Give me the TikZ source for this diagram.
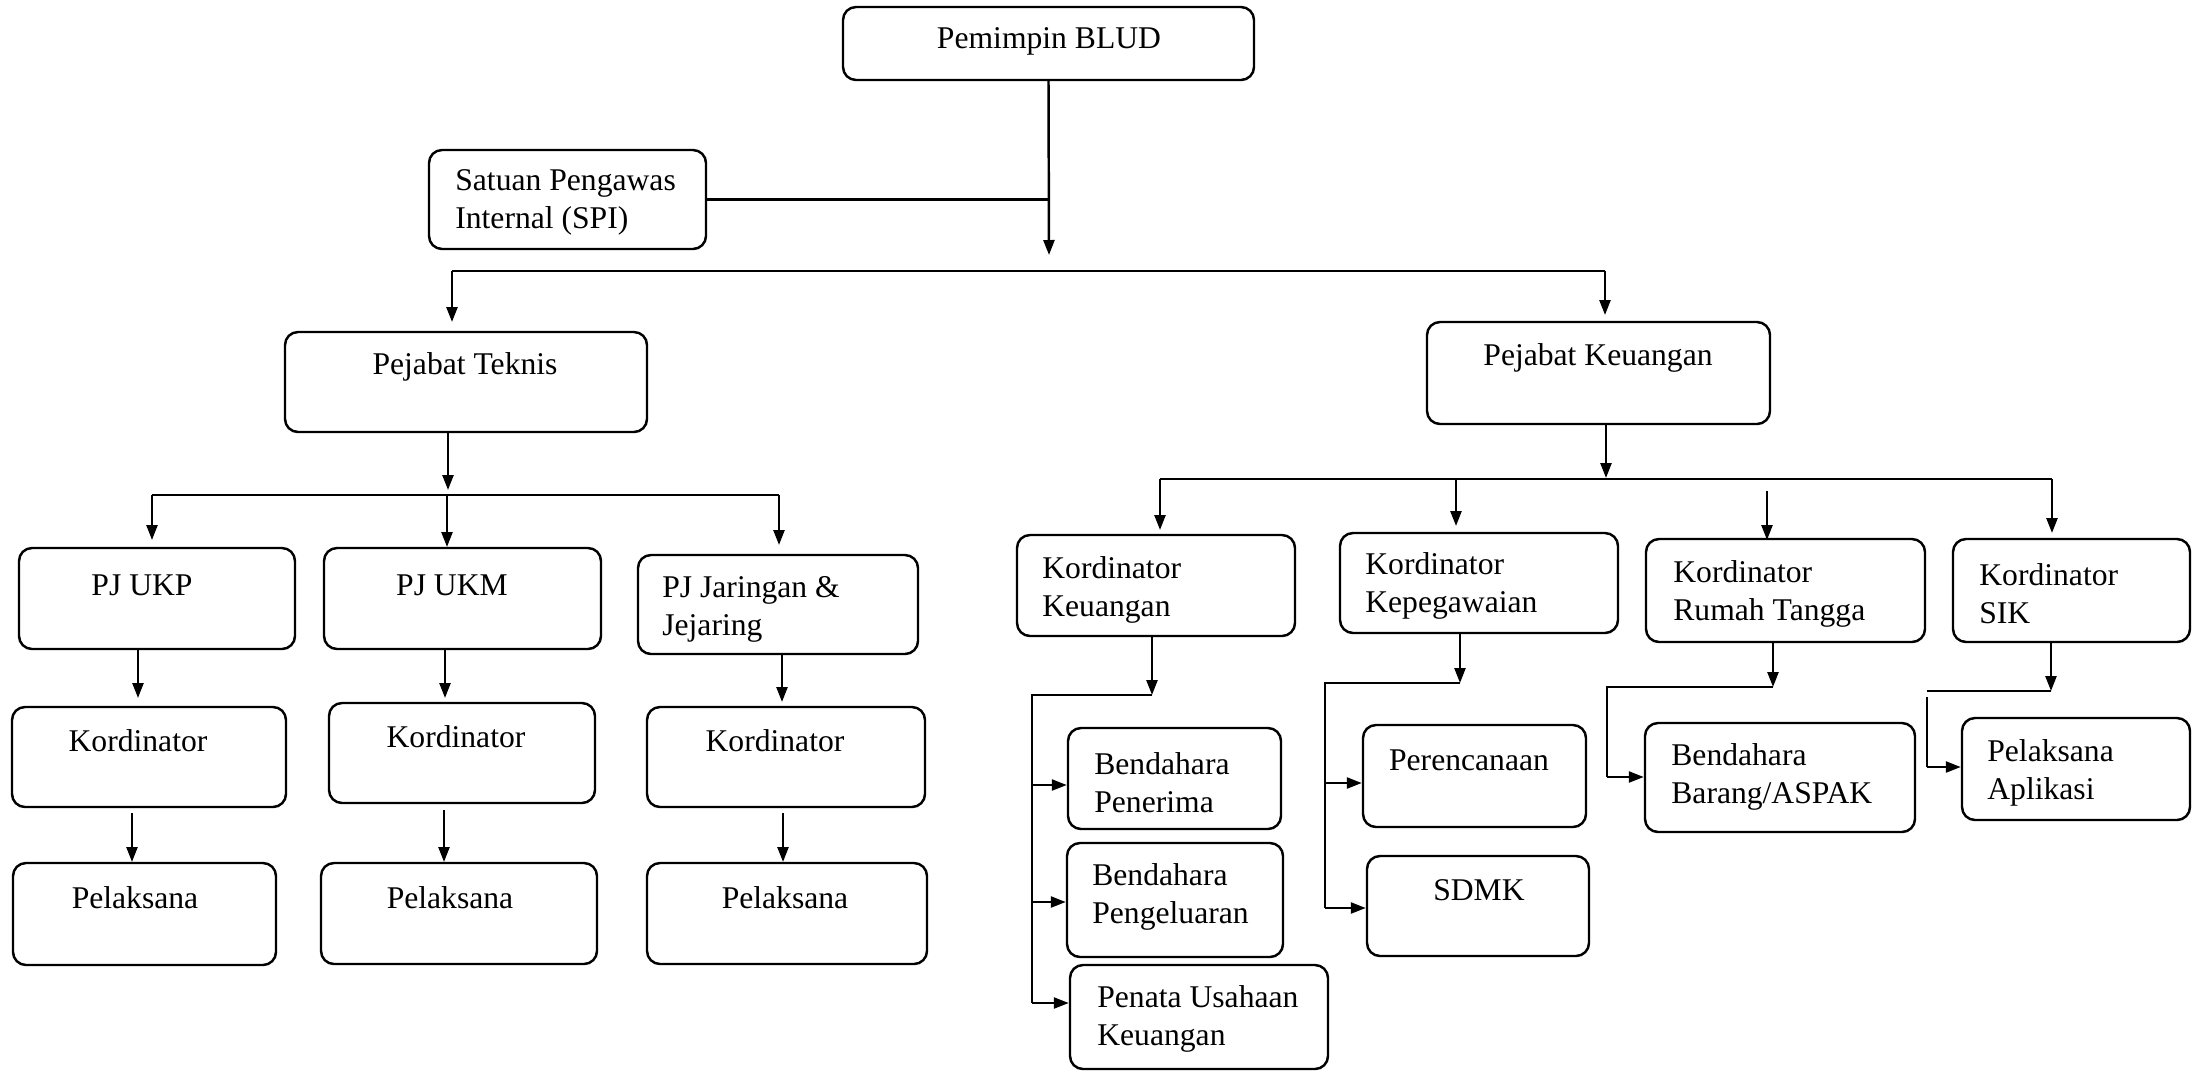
\documentclass[tikz,border=0pt]{standalone}
\usepackage{fontspec}
\setmainfont{Liberation Serif}
\usetikzlibrary{arrows.meta}
\tikzset{
 box/.style={draw, line width=1.4pt, rounded corners=0.26cm, inner sep=0pt},
 txt/.style={inner sep=0pt, font=\fontsize{18pt}{21.6pt}\selectfont, align=left},
 conn/.style={line width=1.4pt},
 arr/.style={line width=1.4pt, -{Triangle[length=0.3cm,width=0.22cm]}},
}
\newcommand\mkbox[5]{\node[box, minimum width={(#4-#2)*0.02cm}, minimum height={(#5-#3)*0.02cm}] (#1) at ({(#2+#4)/2},{(#3+#5)/2}) {};}
\begin{document}
\begin{tikzpicture}[x=0.02cm,y=-0.02cm]
\clip (0,0) rectangle (2192,1072);
\fill[white] (0,0) rectangle (2192,1072);
% boxes
\mkbox{pim}{843}{7}{1254}{80}
\mkbox{spi}{429}{150}{706}{249}
\mkbox{pt}{285}{332}{647}{432}
\mkbox{pk}{1427}{322}{1770}{424}
\mkbox{ukp}{19}{548}{295}{649}
\mkbox{ukm}{324}{548}{601}{649}
\mkbox{jar}{638}{555}{918}{654}
\mkbox{k1}{12}{707}{286}{807}
\mkbox{k2}{329}{703}{595}{803}
\mkbox{k3}{647}{707}{925}{807}
\mkbox{p1}{13}{863}{276}{965}
\mkbox{p2}{321}{863}{597}{964}
\mkbox{p3}{647}{863}{927}{964}
\mkbox{kk}{1017}{535}{1295}{636}
\mkbox{kp}{1340}{533}{1618}{633}
\mkbox{kr}{1646}{539}{1925}{642}
\mkbox{ks}{1953}{539}{2190}{642}
\mkbox{bp}{1068}{728}{1281}{829}
\mkbox{bg}{1067}{843}{1283}{957}
\mkbox{pu}{1070}{965}{1328}{1069}
\mkbox{per}{1363}{725}{1586}{827}
\mkbox{sdm}{1367}{856}{1589}{956}
\mkbox{bb}{1645}{723}{1915}{832}
\mkbox{pa}{1962}{718}{2190}{820}
% texts
\node[txt] (pim-t) at (1049,41) {Pemimpin BLUD};
\node[txt, anchor=west] (spi-t) at (455,202) {Satuan Pengawas\\Internal (SPI)};
\node[txt] (pt-t) at (465,367) {Pejabat Teknis};
\node[txt] (pk-t) at (1598,358) {Pejabat Keuangan};
\node[txt] (ukp-t) at (142,585) {PJ UKP};
\node[txt] (ukm-t) at (452,585) {PJ UKM};
\node[txt, anchor=west] (jar-t) at (662,609) {PJ Jaringan \&\\Jejaring};
\node[txt] (k1-t) at (138,741) {Kordinator};
\node[txt] (k2-t) at (456,737) {Kordinator};
\node[txt] (k3-t) at (775,741) {Kordinator};
\node[txt] (p1-t) at (135,898) {Pelaksana};
\node[txt] (p2-t) at (450,898) {Pelaksana};
\node[txt] (p3-t) at (785,898) {Pelaksana};
\node[txt, anchor=west] (kk-t) at (1042,590) {Kordinator\\Keuangan};
\node[txt, anchor=west] (kp-t) at (1365,586) {Kordinator\\Kepegawaian};
\node[txt, anchor=west] (kr-t) at (1673,594) {Kordinator\\Rumah Tangga};
\node[txt, anchor=west] (ks-t) at (1979,594) {Kordinator\\SIK};
\node[txt, anchor=west] (bp-t) at (1094,783) {Bendahara\\Penerima};
\node[txt, anchor=west] (bg-t) at (1092,897) {Bendahara\\Pengeluaran};
\node[txt, anchor=west] (pu-t) at (1097,1019) {Penata Usahaan\\Keuangan};
\node[txt] (per-t) at (1469,760) {Perencanaan};
\node[txt] (sdm-t) at (1479,890) {SDMK};
\node[txt, anchor=west] (bb-t) at (1671,777) {Bendahara\\Barang/ASPAK};
\node[txt, anchor=west] (pa-t) at (1987,773) {Pelaksana\\Aplikasi};
% top connectors
\coordinate (c1) at (1049,255);
\draw[arr] (pim.south) -- (c1);
\draw[conn] (spi.east) -- (spi.east -| c1);
\coordinate (busL) at (452,271);
\coordinate (busR) at (1605,271);
\coordinate (busLt) at (452,322);
\coordinate (busRt) at (1605,315);
\draw[conn] (busL) -- (busR);
\draw[arr] (busL) -- (busLt);
\draw[arr] (busR) -- (busRt);
% left branch
\coordinate (ptA) at (448,490);
\draw[arr] (pt.south -| ptA) -- (ptA);
\coordinate (b2L) at (152,495);
\coordinate (b2M) at (447,495);
\coordinate (b2R) at (779,495);
\draw[conn] (b2L) -- (b2R);
\coordinate (ukpA) at (152,540);
\coordinate (ukmA) at (447,547);
\coordinate (jarA) at (779,545);
\draw[arr] (b2L) -- (ukpA);
\draw[arr] (b2M) -- (ukmA);
\draw[arr] (b2R) -- (jarA);
\coordinate (k1A) at (138,698);
\coordinate (k2A) at (445,698);
\coordinate (k3A) at (782,702);
\draw[arr] (ukp.south -| k1A) -- (k1A);
\draw[arr] (ukm.south -| k2A) -- (k2A);
\draw[arr] (jar.south -| k3A) -- (k3A);
\coordinate (p1A) at (132,862);
\coordinate (p2A) at (444,862);
\coordinate (p3A) at (783,862);
\coordinate (p1S) at (132,813);
\coordinate (p2S) at (444,810);
\coordinate (p3S) at (783,813);
\draw[arr] (p1S) -- (p1A);
\draw[arr] (p2S) -- (p2A);
\draw[arr] (p3S) -- (p3A);
% right branch
\coordinate (pkA) at (1606,478);
\draw[arr] (pk.south -| pkA) -- (pkA);
\coordinate (b3L) at (1160,479);
\coordinate (b3B) at (1456,479);
\coordinate (b3R) at (2052,479);
\draw[conn] (b3L) -- (b3R);
\coordinate (kkA) at (1160,530);
\coordinate (kpA) at (1456,526);
\coordinate (krS) at (1767,491);
\coordinate (krA) at (1767,540);
\coordinate (ksA) at (2052,533);
\draw[arr] (b3L) -- (kkA);
\draw[arr] (b3B) -- (kpA);
\draw[arr] (krS) -- (krA);
\draw[arr] (b3R) -- (ksA);
% Kordinator Keuangan sub-branch
\coordinate (kkB) at (1152,695);
\coordinate (kkL) at (1032,695);
\coordinate (kk1) at (1032,785);
\coordinate (kk2) at (1032,902);
\coordinate (kk3) at (1032,1003);
\draw[arr] (kk.south -| kkB) -- (kkB);
\draw[conn] (kkB) -- (kkL) -- (kk3);
\draw[arr] (kk1) -- (kk1 -| bp.west);
\draw[arr] (kk2) -- (kk2 -| bg.west);
\draw[arr] (kk3) -- (kk3 -| pu.west);
% Kordinator Kepegawaian sub-branch
\coordinate (kpB) at (1460,683);
\coordinate (kpL) at (1325,683);
\coordinate (kp1) at (1325,783);
\coordinate (kp2) at (1325,908);
\draw[arr] (kp.south -| kpB) -- (kpB);
\draw[conn] (kpB) -- (kpL) -- (kp2);
\draw[arr] (kp1) -- (kp1 -| per.west);
\draw[arr] (kp2) -- (kp2 -| sdm.west);
% Kordinator Rumah Tangga sub-branch
\coordinate (krB) at (1773,687);
\coordinate (krL) at (1607,687);
\coordinate (kr1) at (1607,777);
\draw[arr] (kr.south -| krB) -- (krB);
\draw[conn] (krB) -- (krL) -- (kr1);
\draw[arr] (kr1) -- (kr1 -| bb.west);
% Kordinator SIK sub-branch
\coordinate (ksB) at (2051,691);
\coordinate (ksL) at (1927,691);
\coordinate (ksT) at (1927,697);
\coordinate (ks1) at (1927,767);
\draw[arr] (ks.south -| ksB) -- (ksB);
\draw[conn] (ksB) -- (ksL);
\draw[conn] (ksT) -- (ks1);
\draw[arr] (ks1) -- (ks1 -| pa.west);
\end{tikzpicture}
\end{document}
